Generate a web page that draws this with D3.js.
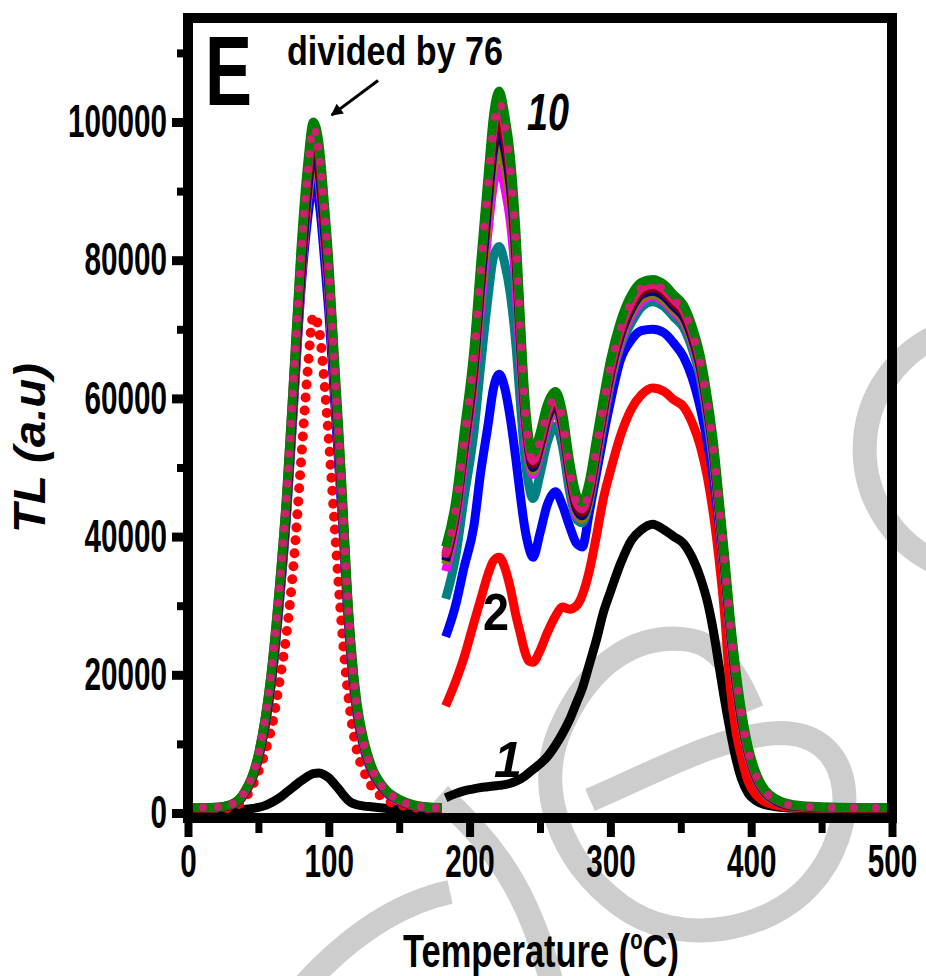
<!DOCTYPE html>
<html>
<head>
<meta charset="utf-8">
<script src="https://cdnjs.cloudflare.com/ajax/libs/d3/7.8.5/d3.min.js"></script>
<style>
body { margin: 0; background: #fff; }
svg { display: block; }
text { font-family: "Liberation Sans Narrow", "Arial Narrow", "Liberation Sans", Arial, sans-serif; }
</style>
</head>
<body>
<svg id="chart" width="926" height="976"></svg>
<script>
// temperatures (deg C) of the read points
var temps1 = [0, 10, 20, 30, 40, 50, 55, 60, 65, 70, 75, 80, 85, 89, 93, 97, 100, 104, 107, 110, 113, 116, 120, 125, 130, 140, 150, 160, 170, 180];
var temps2 = [183, 190, 196, 203, 208, 213, 217, 221, 225, 229, 233, 236, 239, 242, 245, 250, 255, 261, 266, 271, 276, 280, 285, 290, 295, 300, 307, 315, 322, 330, 338, 345, 352, 358, 364, 369, 373, 377, 381, 385, 389, 393, 398, 404, 410, 418, 430, 450, 475, 500];

var seriesNames = ["1", "2", "3", "4", "5", "6", "7", "8", "9", "10"];
var seriesColors = ["#000000", "#ff0000", "#0000ff", "#008080", "#ff00ff", "#808000", "#000080", "#800000", "#e0177a", "#008000"];

// first peak (0-180 C, divided by 76)
var low1 = [0, 50, 100, 250, 500, 800, 1100, 1600, 2200, 3000, 3800, 4600, 5300, 5700, 5800, 5500, 5100, 4200, 3500, 2700, 2000, 1500, 1200, 1000, 900, 700, 500, 400, 300, 250];
var low2 = [500, 500, 550, 800, 2000, 6000, 9000, 13000, 19000, 26000, 36000, 50000, 64000, 72000, 70000, 62000, 54000, 42000, 33000, 25000, 18500, 13500, 9000, 6000, 4000, 2000, 1200, 800, 600, 500];
var low3 = [700, 700, 750, 1100, 2700, 7800, 12800, 20000, 30500, 43000, 59000, 75000, 86000, 91000, 88500, 80000, 72500, 60000, 50500, 41000, 30000, 21500, 14200, 9200, 6200, 3100, 1700, 1000, 750, 700];
var low4 = [700, 700, 750, 1100, 2800, 8000, 13000, 20500, 31500, 44000, 60500, 77000, 90000, 96000, 93000, 84000, 76500, 63000, 53000, 43000, 31500, 22500, 14800, 9600, 6500, 3200, 1800, 1000, 800, 700];
var low5 = [700, 700, 750, 1100, 2700, 7900, 12900, 20200, 31000, 43500, 59500, 76000, 88500, 94000, 91500, 82500, 75000, 62000, 52000, 42000, 31000, 22000, 14500, 9400, 6300, 3100, 1700, 1000, 750, 700];
var low6 = [700, 700, 750, 1100, 2800, 8000, 13000, 20300, 31200, 43800, 60000, 76500, 89000, 95000, 92000, 83500, 75800, 62500, 52500, 42500, 31200, 22200, 14600, 9500, 6400, 3200, 1800, 1000, 800, 700];
var low7 = [700, 700, 750, 1100, 2800, 8000, 13000, 20500, 31500, 44000, 60500, 77000, 90000, 96000, 93000, 84000, 76500, 63000, 53000, 43000, 31500, 22500, 14800, 9600, 6500, 3200, 1800, 1000, 800, 700];
var low8 = [700, 700, 750, 1100, 2800, 8000, 13500, 21000, 32000, 45000, 61500, 78500, 91500, 97500, 94500, 85500, 77500, 64000, 54000, 43500, 32000, 23000, 15000, 9800, 6600, 3300, 1800, 1000, 800, 700];
var low9 = [800, 800, 850, 1200, 3000, 8500, 14000, 22000, 33000, 46000, 63000, 80000, 93000, 99000, 96000, 87000, 79000, 65000, 55000, 44000, 32500, 23500, 15500, 10000, 6800, 3400, 1900, 1100, 850, 750];
var low10 = [800, 800, 850, 1200, 3000, 8500, 14000, 22000, 33000, 46000, 63000, 81000, 94000, 100000, 97000, 88000, 80000, 66000, 56000, 45000, 33000, 24000, 16000, 10500, 7000, 3500, 2000, 1200, 900, 800];

// second part (183-500 C)
var high1 = [2200, 2800, 3200, 3500, 3700, 3800, 3900, 4000, 4100, 4300, 4600, 4900, 5300, 5800, 6300, 7100, 8100, 9800, 11500, 13500, 16000, 18000, 21500, 25000, 29000, 32000, 36000, 39500, 41000, 41800, 41000, 40000, 39000, 37000, 34000, 30500, 26500, 21500, 16500, 12000, 8000, 5000, 2800, 1700, 1200, 900, 700, 600, 600, 600];
var high2 = [15500, 19000, 22500, 27500, 31000, 34500, 36500, 37000, 35500, 32500, 28500, 26000, 23500, 22000, 21800, 23500, 26000, 28500, 29800, 29500, 30000, 31500, 35000, 40000, 45500, 49500, 54500, 58500, 60500, 61500, 61000, 59800, 58800, 56500, 53000, 48500, 43500, 37000, 29000, 18500, 12000, 8200, 4500, 2500, 1600, 1100, 800, 700, 600, 600];
var high3 = [25500, 30000, 35500, 41500, 49500, 56000, 61500, 63500, 61500, 57000, 51000, 46000, 41500, 38500, 37000, 40500, 44500, 46500, 44500, 41500, 39000, 38500, 43500, 49000, 54500, 59500, 65500, 68500, 69800, 70000, 69500, 68000, 66000, 63000, 58500, 53500, 48500, 42000, 34500, 26000, 19500, 14000, 8600, 4800, 2800, 1700, 1000, 800, 700, 700];
var high4 = [31000, 37000, 45500, 55000, 65000, 74500, 80500, 82000, 79500, 75000, 67500, 59500, 52000, 47500, 45500, 49000, 53500, 56000, 53000, 46500, 42500, 42000, 45000, 50500, 56500, 62000, 67500, 71000, 73200, 74000, 73300, 71800, 70200, 67200, 62800, 56800, 50800, 43000, 34500, 25800, 18600, 13000, 8200, 4600, 2700, 1600, 950, 750, 700, 700];
var high5 = [35000, 41500, 51000, 62000, 73500, 84000, 91000, 93500, 90500, 85500, 76000, 65500, 56500, 51000, 49000, 52000, 56000, 58000, 55000, 48000, 43000, 42500, 45500, 51000, 57000, 62500, 68000, 72000, 74000, 74800, 74000, 72500, 71000, 68000, 63500, 57500, 51500, 43500, 35000, 26000, 18800, 13200, 8300, 4700, 2800, 1700, 1000, 800, 700, 700];
var high6 = [36000, 42500, 52000, 63000, 75000, 86000, 93500, 96500, 93500, 88500, 78500, 67500, 58000, 52000, 49500, 52500, 56500, 58500, 55500, 48500, 43500, 42500, 45500, 51500, 57500, 63000, 68500, 72500, 74500, 75000, 74300, 72800, 71300, 68300, 63800, 57800, 51800, 43800, 35300, 26300, 19000, 13300, 8400, 4800, 2800, 1700, 1000, 800, 700, 700];
var high7 = [36500, 43000, 52500, 64000, 76500, 88000, 96000, 99000, 96000, 90500, 80000, 68500, 58500, 52500, 50000, 53000, 57000, 59000, 56000, 49000, 44000, 43000, 46000, 52000, 58000, 63500, 69000, 73000, 75000, 75500, 74800, 73300, 71800, 68800, 64300, 58300, 52300, 44300, 35800, 26800, 19300, 13600, 8600, 4900, 2900, 1700, 1000, 800, 700, 700];
var high8 = [37000, 43500, 53000, 65000, 78000, 90000, 98000, 101000, 97500, 92000, 81000, 69500, 59000, 53000, 50500, 53500, 57500, 59500, 56500, 49500, 44500, 43500, 46500, 52500, 58500, 64000, 69500, 73500, 75500, 76000, 75300, 73800, 72300, 69300, 64800, 58800, 52800, 44800, 36300, 27300, 19800, 14000, 8800, 5000, 3000, 1800, 1000, 800, 700, 700];
var high9 = [37500, 44000, 54000, 66000, 79000, 91000, 99500, 103000, 99500, 93500, 82500, 70500, 60000, 53500, 51000, 54000, 58000, 60000, 57000, 50000, 45000, 44000, 47000, 53000, 59000, 64500, 70000, 74000, 76000, 76500, 75800, 74300, 72800, 69800, 65300, 59300, 53300, 45300, 36800, 27800, 20300, 14500, 9000, 5200, 3100, 1900, 1100, 850, 750, 750];
var high10 = [38500, 45000, 55000, 67000, 80000, 92000, 101000, 104500, 101000, 95000, 84000, 72000, 61000, 54500, 52000, 55000, 59000, 61000, 58000, 51000, 46000, 45000, 48000, 54000, 60000, 65500, 71000, 75000, 76800, 77200, 76500, 75000, 73500, 70500, 66000, 60000, 54000, 46000, 37500, 28500, 21000, 15000, 9500, 5500, 3300, 2000, 1200, 900, 800, 800];

var lows = [low1, low2, low3, low4, low5, low6, low7, low8, low9, low10];
var highs = [high1, high2, high3, high4, high5, high6, high7, high8, high9, high10];

var xTicks = [0, 100, 200, 300, 400, 500];
var xMinor = [50, 150, 250, 350, 450];
var yTicks = [0, 20000, 40000, 60000, 80000, 100000];
var yMinor = [10000, 30000, 50000, 70000, 90000, 110000];

var margin = {top: 18, right: 34, bottom: 158, left: 188};
var width = 926 - margin.left - margin.right;
var height = 976 - margin.top - margin.bottom;

var svg = d3.select("#chart");

// faint watermark behind the plot
var wm = svg.append("g")
	.attr("fill", "none")
	.attr("stroke", "#cdcdcd")
	.attr("stroke-width", 24);
["M 947 332 A 125 125 0 0 0 947 567",
 "M 590 800 C 660 770, 720 735, 780 733 C 860 733, 860 830, 810 885 C 770 930, 680 950, 620 905 C 560 860, 535 790, 560 730 C 590 660, 640 632, 690 640 C 720 645, 740 680, 752 710",
 "M 300 990 C 340 945, 390 905, 450 892",
 "M 440 795 C 490 840, 530 890, 552 985"].forEach(function(d){
	wm.append("path").attr("d", d);
});

var g = svg.append("g")
	.attr("transform", "translate(" + margin.left + "," + margin.top + ")");

var x = d3.scaleLinear().domain([0, 500]).range([0, width]);
var y = d3.scaleLinear().domain([-724, 115050]).range([height, 0]);

var line = d3.line()
	.x(function(d) { return x(d[0]); })
	.y(function(d) { return y(d[1]); })
	.curve(d3.curveMonotoneX);

seriesNames.forEach(function(name, i){
	var part1 = temps1.map(function(t, j) { return [t, lows[i][j]]; });
	var part2 = temps2.map(function(t, j) { return [t, highs[i][j]]; });
	[part1, part2].forEach(function(part, k){
		var p = g.append("path")
			.datum(part)
			.attr("class", "series s" + name)
			.attr("d", line)
			.attr("fill", "none")
			.attr("stroke", seriesColors[i])
			.attr("stroke-width", 9)
			.attr("stroke-linejoin", "round");
		// scattered marker look of the red first peak
		if (k == 0 && name == "2") p.attr("stroke-dasharray", "0 13").attr("stroke-linecap", "round").attr("stroke-width", 10);
	});
});

// pink circles showing through the green stars
[lows[8], highs[8]].forEach(function(vals, k){
	var t = k == 0 ? temps1 : temps2;
	g.append("path")
		.datum(t.map(function(v, j) { return [v, vals[j]]; }))
		.attr("d", line)
		.attr("fill", "none")
		.attr("stroke", seriesColors[8])
		.attr("stroke-width", 8)
		.attr("stroke-linecap", "round")
		.attr("stroke-dasharray", k == 0 ? "0 15" : "0 22")
		.attr("opacity", 0.9);
});

// axes
function styleTicks(sel, w){
	sel.select(".domain").remove();
	sel.selectAll(".tick line").attr("stroke", "#000").attr("stroke-width", w);
}

g.append("g")
	.attr("transform", "translate(0," + height + ")")
	.call(d3.axisBottom(x).tickValues(xMinor).tickSize(15).tickFormat(""))
	.call(styleTicks, 7);

g.append("g")
	.attr("transform", "translate(0," + height + ")")
	.call(d3.axisBottom(x).tickValues(xTicks).tickSize(19).tickPadding(7))
	.call(styleTicks, 8);

g.append("g")
	.call(d3.axisLeft(y).tickValues(yMinor).tickSize(11).tickFormat(""))
	.call(styleTicks, 8);

g.append("g")
	.call(d3.axisLeft(y).tickValues(yTicks).tickSize(16).tickPadding(5).tickFormat(d3.format("d")))
	.call(styleTicks, 9);

// narrow tick digits, about 16.5 px each
g.selectAll(".tick text")
	.attr("fill", "#000")
	.style("font-size", "46px")
	.style("font-weight", "bold")
	.each(function(d){
		var t = d3.select(this);
		var s = String(d).length * 16.5 / this.getComputedTextLength();
		t.attr("x", (+t.attr("x") || 0) / s)
			.attr("transform", "scale(" + s + ",1)");
	});

// frame
g.append("rect")
	.attr("width", width)
	.attr("height", height)
	.attr("fill", "none")
	.attr("stroke", "#000")
	.attr("stroke-width", 10);

// annotations
svg.append("text")
	.attr("x", 205).attr("y", 105)
	.style("font-family", "'Liberation Sans', Arial, sans-serif")
	.style("font-size", "98px").style("font-weight", "bold")
	.attr("textLength", 47).attr("lengthAdjust", "spacingAndGlyphs")
	.text("E");

svg.append("text")
	.attr("x", 287).attr("y", 65)
	.style("font-size", "40px").style("font-weight", "bold")
	.attr("textLength", 216).attr("lengthAdjust", "spacingAndGlyphs")
	.text("divided by 76");

svg.append("defs").append("marker")
	.attr("id", "head")
	.attr("viewBox", "0 0 10 10")
	.attr("refX", 9).attr("refY", 5)
	.attr("markerWidth", 5).attr("markerHeight", 4)
	.attr("orient", "auto")
	.append("path").attr("d", "M0,0 L10,5 L0,10 Z").attr("fill", "#000");

svg.append("line")
	.attr("x1", x(135) + margin.left).attr("y1", y(106000) + margin.top)
	.attr("x2", x(102) + margin.left).attr("y2", y(101000) + margin.top)
	.attr("stroke", "#000").attr("stroke-width", 3)
	.attr("marker-end", "url(#head)");

svg.append("text")
	.attr("x", 527).attr("y", 130)
	.style("font-size", "52px").style("font-weight", "bold").style("font-style", "italic")
	.attr("textLength", 42).attr("lengthAdjust", "spacingAndGlyphs")
	.text("10");

svg.append("text")
	.attr("x", 483).attr("y", 630)
	.style("font-size", "52px").style("font-weight", "bold")
	.attr("textLength", 26).attr("lengthAdjust", "spacingAndGlyphs")
	.text("2");

svg.append("text")
	.attr("x", 494).attr("y", 777)
	.style("font-size", "50px").style("font-weight", "bold").style("font-style", "italic")
	.text("1");

svg.append("text")
	.attr("transform", "translate(45,448) rotate(-90)")
	.attr("text-anchor", "middle")
	.style("font-size", "44px").style("font-weight", "bold").style("font-style", "italic")
	.attr("textLength", 170).attr("lengthAdjust", "spacingAndGlyphs")
	.text("TL (a.u)");

var xt = svg.append("text")
	.style("font-size", "46px").style("font-weight", "bold");
xt.append("tspan").text("Temperature (");
xt.append("tspan").attr("dy", -18).style("font-size", "27px").text("o");
xt.append("tspan").attr("dy", 18).text("C)");
var xtw = xt.node().getComputedTextLength();
xt.attr("transform", "translate(403,967) scale(" + (276 / xtw) + ",1)");
</script>
</body>
</html>
